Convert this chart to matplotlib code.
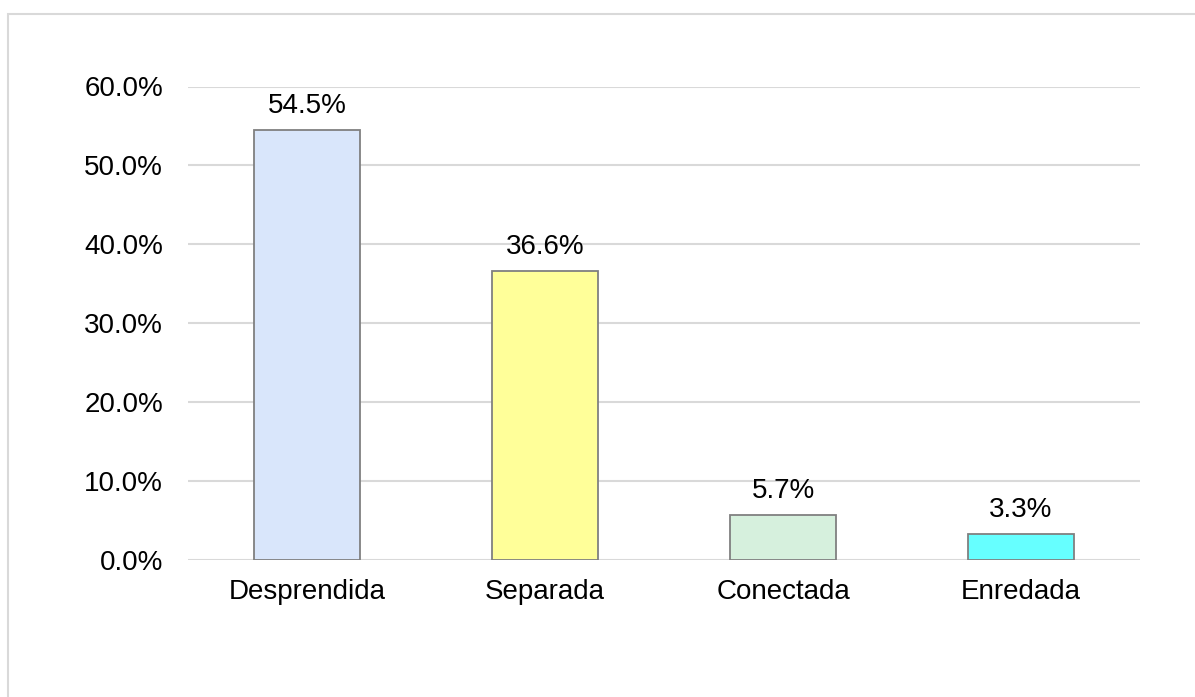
import matplotlib
matplotlib.use("Agg")
import matplotlib.pyplot as plt
from matplotlib.patches import Rectangle
from matplotlib.ticker import FuncFormatter

plt.rcParams['font.family'] = ['Liberation Sans', 'DejaVu Sans']

# data
categories = ['Desprendida', 'Separada', 'Conectada', 'Enredada']
values = [54.5, 36.6, 5.7, 3.3]
bar_colors = ['#d9e6fb', '#ffff99', '#d6f0dd', '#66ffff']
yticks = [0, 10, 20, 30, 40, 50, 60]

W, H = 1195, 697
fig = plt.figure(figsize=(W / 100, H / 100), dpi=100)
ax = fig.add_axes([188 / W, 1 - 560 / H, (1140 - 188) / W, (560 - 86.5) / H])

# chart area border (only top and left edges show in the picture)
fig.patches.append(Rectangle((8 / W, -0.5), 1.2, 1.5 - 14 / H, transform=fig.transFigure,
                             fill=False, edgecolor='#d9d9d9', linewidth=1.5, zorder=0))

x = range(len(categories))
bars = ax.bar(x, values, width=0.445, color=bar_colors, edgecolor='#808080', linewidth=1.3, zorder=3)

for b, v in zip(bars, values):
    ax.annotate('%.1f%%' % v, (b.get_x() + b.get_width() / 2, b.get_height()),
                xytext=(0, 8), textcoords='offset points', ha='center', va='bottom',
                fontsize=20, color='black')

ax.set_xlim(-0.5, len(categories) - 0.5)
ax.set_ylim(0, 60)
ax.set_yticks(yticks)
ax.yaxis.set_major_formatter(FuncFormatter(lambda v, p: '%.1f%%' % v))
ax.set_xticks(list(x))
ax.set_xticklabels(categories)
ax.tick_params(axis='y', length=0, pad=18, labelsize=20)
ax.tick_params(axis='x', length=0, pad=14, labelsize=20)
ax.grid(axis='y', color='#d9d9d9', linewidth=1.5, zorder=0)
ax.set_axisbelow(True)
for s in ax.spines.values():
    s.set_visible(False)

fig.savefig('out.png', dpi=100)
